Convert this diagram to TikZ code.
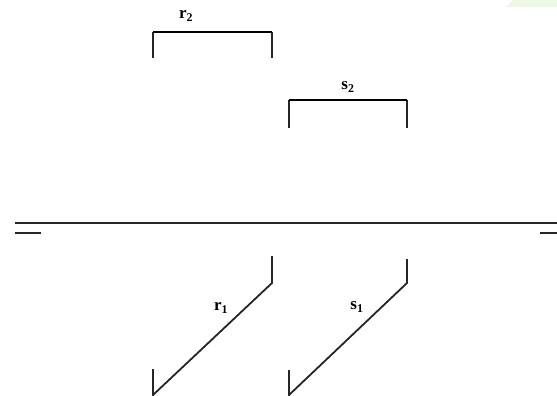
\documentclass[tikz,border=0pt]{standalone}
\usepackage{fontspec}
\setmainfont{Liberation Serif}
\definecolor{wm}{RGB}{236,248,226}
\begin{document}
\begin{tikzpicture}[x=1pt,y=-1pt,
  thin line/.style={line width=1.8pt,black!85},
  thick line/.style={line width=2.6pt,black},
  lbl/.style={font=\fontsize{17}{19}\selectfont\bfseries, inner sep=0pt}]
\useasboundingbox (0,0) rectangle (557,396);
\fill[wm] (513,0) -- (557,0) -- (557,7) -- (506,7) -- cycle;
% r2 bracket
\coordinate (r2a) at (153,58); \coordinate (r2b) at (153,32);
\coordinate (r2c) at (272,32); \coordinate (r2d) at (272,58);
\draw[thin line] (r2a) -- (r2b); \draw[thin line] (r2c) -- (r2d);
\draw[thick line] (r2b) -- (r2c);
\node[lbl] (r2) at (186,16) {r$_{\mathbf 2}$};
% s2 bracket
\coordinate (s2a) at (289,128); \coordinate (s2b) at (289,100);
\coordinate (s2c) at (407,100); \coordinate (s2d) at (407,128);
\draw[thin line] (s2a) -- (s2b); \draw[thin line] (s2c) -- (s2d);
\draw[thick line] (s2b) -- (s2c);
\node[lbl] (s2) at (348,87) {s$_{\mathbf 2}$};
% long line
\coordinate (L1) at (15,223); \coordinate (L2) at (557,223);
\draw[thin line] (L1) -- (L2);
\coordinate (sl1) at (15,233); \coordinate (sl2) at (41,233);
\draw[thin line] (sl1) -- (sl2);
\coordinate (sr1) at (540,233); \coordinate (sr2) at (557,233);
\draw[thin line] (sr1) -- (sr2);
% r1
\coordinate (r1a) at (272,256); \coordinate (r1b) at (272,283);
\coordinate (r1c) at (153,395); \coordinate (r1d) at (153,369);
\draw[thin line] (r1a) -- (r1b) -- (r1c) -- (r1d);
\node[lbl] (r1) at (221,308) {r$_{\mathbf 1}$};
% s1
\coordinate (s1a) at (407,259); \coordinate (s1b) at (407,283);
\coordinate (s1c) at (289,395); \coordinate (s1d) at (289,370);
\draw[thin line] (s1a) -- (s1b) -- (s1c) -- (s1d);
\node[lbl] (s1) at (357,307) {s$_{\mathbf 1}$};
\end{tikzpicture}
\end{document}
